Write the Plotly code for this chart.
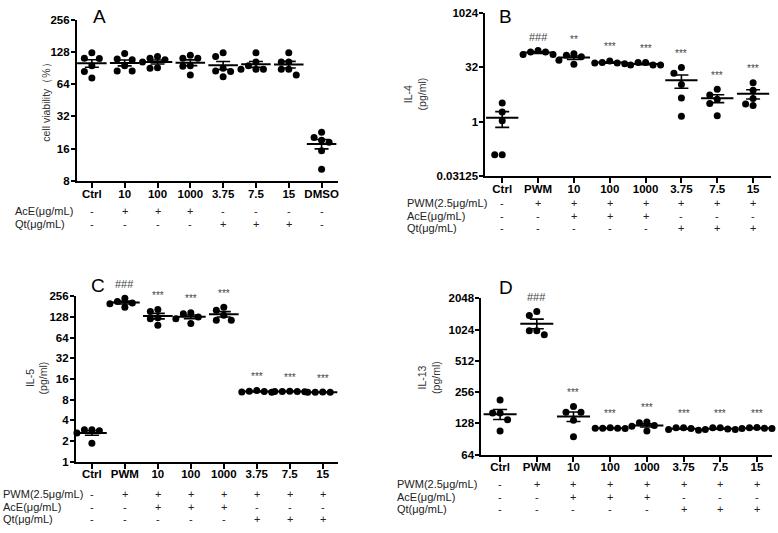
import numpy as np
import plotly.graph_objects as go

W, H = 778, 533

# ---------------- data ----------------
cats_A = ["Ctrl", "10", "100", "1000", "3.75", "7.5", "15", "DMSO"]
viability = [
    [126, 111, 112, 95, 84, 73],
    [124, 110, 108, 95, 85, 85],
    [116, 112, 108, 103, 91, 90],
    [119, 112, 112, 95, 94, 78],
    [126, 116, 90, 85, 84, 75],
    [126, 103, 95, 88, 88, 88],
    [126, 103, 103, 88, 88, 78],
    [22.8, 20.4, 19.2, 18.4, 15.3, 10.3],
]

cats = ["Ctrl", "PWM", "10", "100", "1000", "3.75", "7.5", "15"]
il4 = [
    [3.3, 1.86, 1.06, 0.122, 0.122],
    [93, 85, 85, 72, 72],
    [76, 69, 62, 50, 39],
    [48, 43, 42, 42, 40],
    [43, 43, 37, 37, 37],
    [31.3, 22, 10.7, 4.5, 1.42],
    [7.9, 5.5, 4.2, 3.2, 1.45],
    [11.9, 7.4, 4.4, 3.1, 2.8],
]
il5 = [
    [2.9, 2.9, 2.8, 2.6, 1.85],
    [240, 215, 205, 200, 178],
    [165, 154, 125, 121, 97],
    [148, 143, 128, 121, 103],
    [178, 160, 135, 115, 115],
    [10.8, 10.6, 10.5, 10.3, 10.2],
    [10.6, 10.5, 10.5, 10.5, 10.4],
    [10.3, 10.2, 10.2, 10.2, 10.1],
]
il13 = [
    [215, 161, 161, 139, 108],
    [1531, 1396, 997, 997, 911],
    [186, 164, 164, 137, 95],
    [116, 115, 115, 115, 114],
    [132, 130, 122, 120, 108],
    [116, 116, 114, 112, 110],
    [116, 116, 113, 112, 112],
    [117, 116, 115, 114, 114],
]

rows_A = {
    "AcE(μg/mL)": ["-", "+", "+", "+", "-", "-", "-", "-"],
    "Qt(μg/mL)": ["-", "-", "-", "-", "+", "+", "+", "-"],
}
rows_T = {
    "PWM(2.5μg/mL)": ["-", "+", "+", "+", "+", "+", "+", "+"],
    "AcE(μg/mL)": ["-", "-", "+", "+", "+", "-", "-", "-"],
    "Qt(μg/mL)": ["-", "-", "-", "-", "-", "+", "+", "+"],
}
sig_B = ["", "###", "**", "***", "***", "***", "***", "***"]
sig_CD = ["", "###", "***", "***", "***", "***", "***", "***"]

ticks_A = [8, 16, 32, 64, 128, 256]
ticks_B = [0.03125, 1, 32, 1024]
ticklabels_B = ["0.03125", "1", "32", "1024"]
ticks_C = [1, 2, 4, 8, 16, 32, 64, 128, 256]
ticks_D = [64, 128, 256, 512, 1024, 2048]

# ---------------- layout geometry (pixels) ----------------
FONT = "Liberation Sans, Arial, sans-serif"
panels = [
    dict(data=viability, cats=cats_A, ticks=ticks_A, ticktext=[str(t) for t in ticks_A],
         xpx=(77, 338), ypx=(14, 179), xr=(-0.456, 7.487), ylim=(8, 256),
         ytitle="cell viability（%）", ytpos=(46, 96), label="A", lpos=(100, 11),
         sig=None, rows=rows_A, rows_y=(210, 223), rlx=13),
    dict(data=il4, cats=cats, ticks=ticks_B, ticktext=ticklabels_B,
         xpx=(486, 772), ypx=(7, 174), xr=(-0.47, 7.5), ylim=(0.03125, 1024),
         ytitle="IL-4<br>(pg/ml)", ytpos=(416, 90), label="B", lpos=(506, 11),
         sig=sig_B, rows=rows_T, rows_y=(202, 215, 227), rlx=406),
    dict(data=il5, cats=cats, ticks=ticks_C, ticktext=[str(t) for t in ticks_C],
         xpx=(76, 338), ypx=(297, 466), xr=(-0.485, 7.45), ylim=(1, 256),
         ytitle="IL-5<br>(pg/ml)", ytpos=(37, 380), label="C", lpos=(98, 286),
         sig=sig_CD, rows=rows_T, rows_y=(499, 513, 525), rlx=1),
    dict(data=il13, cats=cats, ticks=ticks_D, ticktext=[str(t) for t in ticks_D],
         xpx=(482, 773), ypx=(299, 459), xr=(-0.51, 7.41), ylim=(64, 2048),
         ytitle="IL-13<br>(pg/ml)", ytpos=(430, 380), label="D", lpos=(507, 288),
         sig=sig_CD, rows=rows_T, rows_y=(489, 502, 515), rlx=396),
]

DIA = 7.0   # marker diameter px
STEP = 7.5  # horizontal spacing px


def swarm(values, px_per_cat, px_per_log2):
    order = np.argsort(values)[::-1]
    placed = []
    offs = np.zeros(len(values))
    cands = [0, -1, 1, -2, 2, -3, 3]
    for idx in order:
        yp = np.log2(values[idx]) * px_per_log2
        for c in cands:
            xp = c * STEP
            if all((xp - px) ** 2 + (yp - py) ** 2 >= (DIA * 0.97) ** 2 for px, py in placed):
                break
        placed.append((xp, yp))
        offs[idx] = xp / px_per_cat
    return offs


fig = go.Figure()
annotations = []

for k, p in enumerate(panels):
    ax = "" if k == 0 else str(k + 1)
    xa, ya = "x" + ax, "y" + ax
    x0, x1 = p["xpx"]
    y0, y1 = p["ypx"]
    px_per_cat = (x1 - x0) / (p["xr"][1] - p["xr"][0])
    px_per_log2 = (y1 - y0) / (np.log2(p["ylim"][1]) - np.log2(p["ylim"][0]))

    xs, ys = [], []
    mx, my = [], []
    ex, ey, es = [], [], []
    for i, vals in enumerate(p["data"]):
        v = np.array(vals, dtype=float)
        offs = swarm(v, px_per_cat, px_per_log2)
        xs += list(i + offs)
        ys += list(v)
        m = v.mean()
        s = v.std(ddof=1) / np.sqrt(len(v))
        mx += [i - 0.45, i + 0.45, None]
        my += [m, m, None]
        ex.append(i)
        ey.append(m)
        es.append(s)

    fig.add_trace(go.Scatter(x=ex, y=ey, mode="markers", xaxis=xa, yaxis=ya,
                             marker=dict(size=1, color="rgba(0,0,0,0)"),
                             error_y=dict(type="data", array=es, symmetric=True,
                                          color="black", thickness=1.6, width=7),
                             showlegend=False, hoverinfo="skip"))
    fig.add_trace(go.Scatter(x=mx, y=my, mode="lines", xaxis=xa, yaxis=ya,
                             line=dict(color="black", width=2),
                             showlegend=False, hoverinfo="skip"))
    fig.add_trace(go.Scatter(x=xs, y=ys, mode="markers", xaxis=xa, yaxis=ya,
                             marker=dict(size=DIA, color="black"),
                             showlegend=False, cliponaxis=False))

    dom_x = [x0 / W, x1 / W]
    dom_y = [1 - y1 / H, 1 - y0 / H]
    fig.update_layout(**{
        "xaxis" + ax: dict(domain=dom_x, anchor=ya, range=list(p["xr"]),
                           tickmode="array", tickvals=list(range(len(p["cats"]))),
                           ticktext=p["cats"], ticks="outside", ticklen=5, tickwidth=2,
                           tickcolor="black", showline=True, linecolor="black", linewidth=2,
                           showgrid=False, zeroline=False, ticklabelstandoff=-4,
                           tickfont=dict(family=FONT, size=11.5, color="black", weight="bold")),
        "yaxis" + ax: dict(domain=dom_y, anchor=xa, type="log",
                           range=[np.log10(p["ylim"][0]), np.log10(p["ylim"][1])],
                           tickmode="array", tickvals=p["ticks"], ticktext=p["ticktext"],
                           ticks="outside", ticklen=4, tickwidth=2, tickcolor="black",
                           showline=True, linecolor="black", linewidth=2,
                           showgrid=False, zeroline=False, ticklabelstandoff=-1,
                           tickfont=dict(family=FONT, size=11.5, color="black", weight="bold")),
    })

    annotations.append(dict(xref="paper", yref="paper", x=p["ytpos"][0] / W, y=1 - p["ytpos"][1] / H,
                            text=p["ytitle"], textangle=-90, showarrow=False,
                            font=dict(family=FONT, size=10.5, color="#333"),
                            xanchor="center", yanchor="middle"))
    annotations.append(dict(xref="paper", yref="paper", x=p["lpos"][0] / W, y=1 - p["lpos"][1] / H,
                            text=p["label"], showarrow=False,
                            font=dict(family=FONT, size=19, color="black"),
                            xanchor="center", yanchor="middle"))
    if p["sig"]:
        for i, s in enumerate(p["sig"]):
            if s:
                annotations.append(dict(xref=xa, yref=ya, x=i, y=np.log10(max(p["data"][i])),
                                        text=s, showarrow=False, yshift=14,
                                        font=dict(family=FONT, size=11 if s.startswith("#") else 10,
                                                  color="#444"),
                                        xanchor="center", yanchor="middle"))
    for (lab, signs), ry in zip(p["rows"].items(), p["rows_y"]):
        annotations.append(dict(xref="paper", yref="paper", x=p["rlx"] / W, y=1 - ry / H,
                                text=lab, showarrow=False, xanchor="left", yanchor="middle",
                                font=dict(family=FONT, size=11, color="#222")))
        for i, sgn in enumerate(signs):
            annotations.append(dict(xref=xa, yref="paper", x=i, y=1 - ry / H,
                                    text=sgn, showarrow=False, xanchor="center", yanchor="middle",
                                    font=dict(family=FONT, size=11, color="#222")))

fig.update_layout(width=W, height=H, margin=dict(l=0, r=0, t=0, b=0),
                  paper_bgcolor="white", plot_bgcolor="white",
                  annotations=annotations, showlegend=False)

fig.write_html("out.html", config={"displayModeBar": False},
               post_script="document.body.style.margin='0';document.body.style.overflow='hidden';")
